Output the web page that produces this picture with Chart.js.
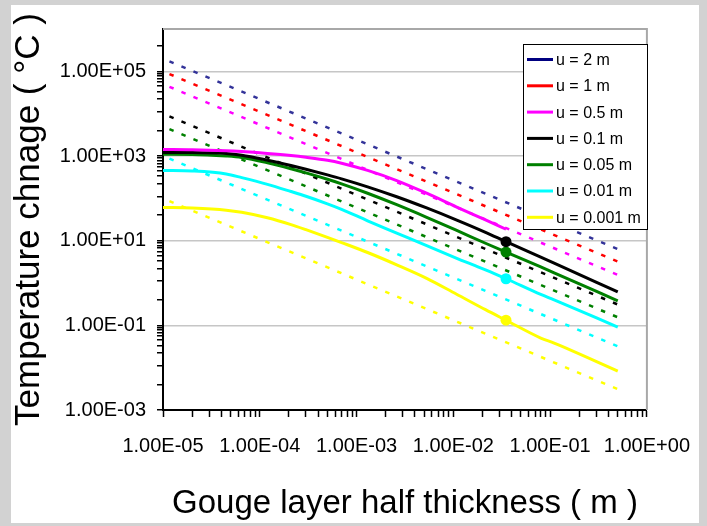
<!DOCTYPE html>
<html>
<head>
<meta charset="utf-8">
<script src="https://cdn.jsdelivr.net/npm/chart.js@4.4.0/dist/chart.umd.min.js"></script>
<style>
  html, body { margin: 0; padding: 0; background: #d2d2d2; }
  canvas { display: block; }
</style>
</head>
<body>
<canvas id="chart" width="707" height="526"></canvas>
<script>
const seriesNames = ["u = 2 m", "u = 1 m", "u = 0.5 m", "u = 0.1 m", "u = 0.05 m", "u = 0.01 m", "u = 0.001 m"];
const lineColors = ["#000080", "#ff0000", "#ff00ff", "#000000", "#008000", "#00ffff", "#ffff00"];
const dotColors = ["#333399", "#ff0000", "#ff00ff", "#000000", "#008000", "#00ffff", "#ffff00"];

// half thickness (m) where the solid curves were read
const solidX = [1e-5, 2e-5, 4.5e-5, 6.5e-5, 1.2e-4, 2.1e-4, 3e-4, 5e-4, 7e-4, 1.3e-3, 2.6e-3, 5.3e-3, 1.07e-2, 2.15e-2, 3.5e-2, 0.08, 0.11, 0.5];
const solid05 = [1432, 1413, 1334, 1274, 1148, 1023, 933, 794, 676, 457, 263, 132, 63.1, 30.9, 18.6];
const solid01 = [1216, 1211, 1148, 1047, 794, 594, 486, 358, 289, 187, 109, 59.2, 31.0, 15.7, 9.44, 4.07, 2.95, 0.617];
const solid005 = [1096, 1091, 1000, 923, 692, 500, 399, 282, 220, 132, 70.8, 35.7, 17.7, 8.69, 5.37, 2.40, 1.74, 0.380];
const solid001 = [457, 442, 376, 309, 214, 145, 112, 74.1, 55.0, 29.5, 15.1, 7.59, 3.89, 2.04, 1.26, 0.537, 0.398, 0.0912];
const solid0001 = [61.0, 58.9, 52.5, 46.8, 34.7, 24.0, 18.2, 12.0, 9.02, 5.25, 2.69, 1.29, 0.550, 0.234, 0.132, 0.0501, 0.0380, 0.00832];

// dotted lines, read at both ends
const dotX = [1e-5, 0.5];
const dot2 = [2.0e5, 6.3];
const dot1 = [1.0e5, 3.2];
const dot05 = [5.0e4, 1.55];
const dot01 = [1.0e4, 0.31];
const dot005 = [5.0e3, 0.155];
const dot001 = [1.0e3, 0.032];
const dot0001 = [100, 0.0031];

const markerX = 0.035;

const xMajor = [1e-5, 1e-4, 1e-3, 1e-2, 1e-1, 1];
const yMajor = [1e-3, 1e-1, 1e1, 1e3, 1e5];

Chart.defaults.font.family = '"Liberation Sans", Arial, sans-serif';
Chart.defaults.color = "#000";

const pts = (xs, ys) => ys.map((y, i) => ({ x: xs[i], y }));
const isIn = (list, v) => list.some(m => Math.abs(v / m - 1) < 1e-6);
const sci = v => {
  const [m, e] = v.toExponential(2).split("e");
  return m + "E" + (e[0] === "-" ? "-" : "+") + e.replace(/[+-]/, "").padStart(2, "0");
};

// tick marks, excel style minor ticks
const xTicks = [];
xMajor.forEach(a => {
  xTicks.push(a);
  if (a < 1) for (let k = 2; k <= 9; k++) xTicks.push(a * k);
});
const yTicks = [];
yMajor.forEach(a => {
  yTicks.push(a);
  [4, 100 / 9, 200 / 9, 300 / 9, 400 / 9, 500 / 9, 600 / 9, 700 / 9, 800 / 9].forEach(k => {
    if (a * k < 1e6) yTicks.push(a * k);
  });
});

function solidSet(i, ys, marker) {
  return {
    data: pts(solidX, ys),
    borderColor: lineColors[i],
    backgroundColor: lineColors[i],
    borderWidth: 3,
    cubicInterpolationMode: "monotone",
    pointRadius: ctx => (marker && ctx.raw && ctx.raw.x === markerX) ? 5.5 : 0,
    pointBorderWidth: 0,
    order: 0
  };
}
function dotSet(i, ys) {
  return {
    data: pts(dotX, ys),
    borderColor: dotColors[i],
    borderWidth: 2.5,
    borderDash: [4.5, 8.5],
    borderDashOffset: 6,
    pointRadius: 0,
    order: 1
  };
}

const frame = {
  id: "frame",
  beforeDraw(chart) {
    const c = chart.ctx;
    c.save();
    c.fillStyle = "#d2d2d2";
    c.fillRect(0, 0, chart.width, chart.height);
    c.fillStyle = "#ffffff";
    c.fillRect(11, 5, 688, 518);
    c.restore();
  },
  beforeDatasetsDraw(chart) {
    const { left, right, top, bottom } = chart.chartArea;
    const c = chart.ctx;
    c.save();
    c.strokeStyle = "#a8a8a8";
    c.lineWidth = 2;
    c.beginPath();
    c.moveTo(left, top);
    c.lineTo(right, top);
    c.lineTo(right, bottom);
    c.stroke();
    c.restore();
  }
};

const legendBox = {
  id: "legendBox",
  afterDraw(chart) {
    const c = chart.ctx;
    const x0 = 523, y0 = 44, w = 124, h = 185, row = 26.3;
    c.save();
    c.fillStyle = "#fff";
    c.fillRect(x0, y0, w, h);
    c.strokeStyle = "#000";
    c.lineWidth = 1;
    c.strokeRect(x0 + 0.5, y0 + 0.5, w, h);
    c.font = '16px "Liberation Sans", Arial, sans-serif';
    c.textBaseline = "middle";
    seriesNames.forEach((name, i) => {
      const y = y0 + 15.5 + i * row;
      c.strokeStyle = lineColors[i];
      c.lineWidth = 3;
      c.beginPath();
      c.moveTo(x0 + 4, y);
      c.lineTo(x0 + 30, y);
      c.stroke();
      c.fillStyle = "#000";
      c.fillText(name, x0 + 33, y + 1);
    });
    c.restore();
  }
};

new Chart(document.getElementById("chart"), {
  type: "line",
  data: {
    datasets: [
      solidSet(2, solid05, false),
      solidSet(3, solid01, true),
      solidSet(4, solid005, true),
      solidSet(5, solid001, true),
      solidSet(6, solid0001, true),
      dotSet(0, dot2),
      dotSet(1, dot1),
      dotSet(2, dot05),
      dotSet(3, dot01),
      dotSet(4, dot005),
      dotSet(5, dot001),
      dotSet(6, dot0001)
    ]
  },
  options: {
    responsive: false,
    animation: false,
    events: [],
    layout: { padding: { top: 29, right: 53, left: 0, bottom: 0 } },
    plugins: { legend: { display: false }, tooltip: { enabled: false } },
    scales: {
      x: {
        type: "logarithmic",
        min: 1e-5,
        max: 1,
        afterBuildTicks: s => { s.ticks = xTicks.map(v => ({ value: v })); },
        afterFit: s => { s.height = 116; },
        ticks: {
          autoSkip: false,
          maxRotation: 0,
          padding: 17,
          font: { size: 20 },
          callback: v => isIn(xMajor, v) ? sci(v) : ""
        },
        grid: { drawOnChartArea: false, tickLength: 7, tickColor: "#000", tickWidth: 1.5 },
        border: { color: "#000", width: 2 },
        title: {
          display: true,
          text: "Gouge layer half thickness ( m )",
          font: { size: 33 },
          padding: { top: 0, bottom: 2 }
        }
      },
      y: {
        type: "logarithmic",
        min: 1e-3,
        max: 1e6,
        afterBuildTicks: s => { s.ticks = yTicks.map(v => ({ value: v })); },
        afterFit: s => { s.width = 163; },
        ticks: {
          autoSkip: false,
          padding: 11,
          font: { size: 20 },
          callback: v => isIn(yMajor, v) ? sci(v) : ""
        },
        grid: {
          color: ctx => (ctx.tick && isIn(yMajor, ctx.tick.value) && ctx.tick.value > 1e-3) ? "#c6c6c6" : "rgba(0,0,0,0)",
          lineWidth: 1.5,
          tickLength: 6,
          tickColor: "#000",
          tickWidth: 1.5
        },
        border: { color: "#000", width: 2 },
        title: {
          display: true,
          text: "Temperature chnage ( °C )",
          font: { size: 35 },
          padding: { top: 8, bottom: 0 }
        }
      }
    }
  },
  plugins: [frame, legendBox]
});
</script>
</body>
</html>
